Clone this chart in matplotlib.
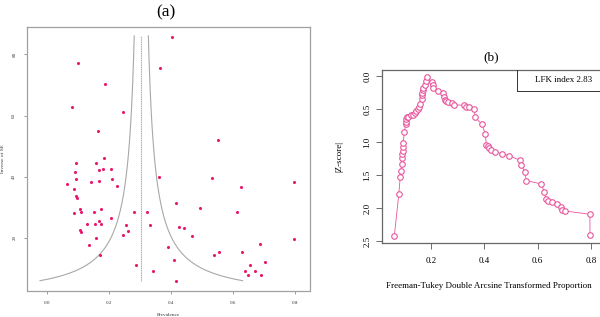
import matplotlib
matplotlib.use("Agg")
import matplotlib.pyplot as plt
import numpy as np
from matplotlib.patches import Rectangle

# ---------------- Panel (a): funnel plot data ----------------
prev = [0.102, 0.405, 0.187, 0.082, 0.365, 0.246, 0.165, 0.552, 0.184,
        0.096, 0.160, 0.091, 0.168, 0.180, 0.208, 0.096, 0.065, 0.144,
        0.169, 0.210, 0.228, 0.088, 0.095, 0.097, 0.108, 0.112, 0.087,
        0.174, 0.152, 0.208, 0.283, 0.325, 0.168, 0.130, 0.155, 0.175,
        0.256, 0.332, 0.107, 0.112, 0.263, 0.245, 0.159, 0.137, 0.171,
        0.288, 0.343, 0.363, 0.534, 0.797, 0.626, 0.418, 0.494, 0.614,
        0.427, 0.443, 0.468, 0.392, 0.797, 0.689, 0.541, 0.557, 0.631,
        0.410, 0.705, 0.655, 0.641, 0.671, 0.650, 0.691, 0.416]
inv_se = [77.2, 85.7, 70.4, 62.9, 75.6, 61.1, 55.1, 52.0, 46.0,
          44.5, 44.4, 41.5, 42.3, 42.6, 42.6, 39.3, 37.7, 38.3,
          38.7, 39.1, 37.1, 36.1, 33.6, 33.1, 29.4, 28.5, 28.2,
          29.6, 28.3, 26.5, 28.3, 28.4, 25.5, 24.5, 24.5, 24.5,
          24.3, 24.1, 22.7, 21.9, 22.4, 21.0, 19.9, 17.7, 14.4,
          11.1, 9.3, 39.9, 39.7, 38.2, 36.7, 31.3, 29.7, 28.4,
          23.5, 23.2, 20.6, 17.1, 19.7, 18.1, 14.4, 15.3, 15.3,
          12.8, 12.2, 11.2, 9.2, 9.3, 7.8, 8.0, 6.0]
pooled = 0.305
funnel_y_min, funnel_y_max = 6.0, 86.0
z_crit = 1.96
a_xticks = [0.0, 0.2, 0.4, 0.6, 0.8]
a_yticks = [20, 40, 60, 80]

# ---------------- Panel (b): Doi plot data ----------------
ft_prop = [0.063, 0.080, 0.085, 0.088, 0.090, 0.093, 0.091, 0.094, 0.095,
           0.096, 0.101, 0.106, 0.107, 0.108, 0.110, 0.113, 0.126, 0.132,
           0.140, 0.146, 0.150, 0.155, 0.160, 0.165, 0.166, 0.168, 0.171,
           0.172, 0.177, 0.182, 0.185, 0.206, 0.208, 0.207, 0.227, 0.245,
           0.248, 0.252, 0.258, 0.263, 0.281, 0.287, 0.323, 0.332, 0.344,
           0.362, 0.366, 0.392, 0.404, 0.408, 0.415, 0.419, 0.427, 0.442,
           0.467, 0.492, 0.533, 0.539, 0.551, 0.558, 0.613, 0.625, 0.631,
           0.640, 0.652, 0.671, 0.688, 0.691, 0.704, 0.796, 0.796]
z_abs = [2.42, 1.78, 1.53, 1.43, 1.33, 1.24, 1.18, 1.13, 1.07,
         1.01, 0.84, 0.72, 0.69, 0.65, 0.62, 0.61, 0.59, 0.58,
         0.55, 0.52, 0.49, 0.47, 0.42, 0.35, 0.29, 0.25, 0.21,
         0.17, 0.13, 0.07, 0.015, 0.086, 0.137, 0.18, 0.22, 0.25,
         0.31, 0.36, 0.38, 0.39, 0.41, 0.43, 0.44, 0.46, 0.47,
         0.50, 0.62, 0.73, 0.88, 1.04, 1.06, 1.08, 1.12, 1.15,
         1.17, 1.20, 1.27, 1.34, 1.45, 1.58, 1.63, 1.75, 1.86,
         1.89, 1.91, 1.93, 1.98, 2.02, 2.04, 2.09, 2.41]
lfk_label = "LFK index 2.83"
b_xticks = [0.2, 0.4, 0.6, 0.8]
b_yticks = [0.0, 0.5, 1.0, 1.5, 2.0, 2.5]

serif = ["Liberation Serif", "DejaVu Serif"]
plt.rcParams["font.family"] = serif

fig = plt.figure(figsize=(6.0, 3.17), dpi=100)
W, H = 600.0, 317.0

# ---------- Panel (a) ----------
axA = fig.add_axes([26.7 / W, 1 - 290.5 / H, (310 - 26.7) / W, (290.5 - 26.5) / H])
gray = "#a8a8a8"
ys = np.linspace(funnel_y_min, funnel_y_max, 300)
axA.plot(pooled - z_crit / ys, ys, color=gray, lw=0.8)
axA.plot(pooled + z_crit / ys, ys, color=gray, lw=0.8)
axA.plot([pooled, pooled], [funnel_y_min, funnel_y_max], color=gray, lw=0.8,
         ls=(0, (1, 0.6)))
axA.scatter(prev, inv_se, s=5, color="#e8186e", zorder=3, linewidths=0)
axA.set_xlim(-0.0645, 0.849)
axA.set_ylim(2.8, 89.1)
axA.set_xticks(a_xticks)
axA.set_xticklabels([f"{v:.1f}" for v in a_xticks])
axA.set_yticks(a_yticks)
axA.set_yticklabels([str(v) for v in a_yticks], rotation=90, va="center")
axA.tick_params(labelsize=3.6, length=2.5, width=0.5, color="#777777",
                labelcolor="#333333", pad=5)
for s in axA.spines.values():
    s.set_color("#a0a0a0")
    s.set_linewidth(0.9)
axA.set_xlabel("Prevalence", fontsize=3.8, color="#333333")
axA.xaxis.set_label_coords(0.5, -0.085)
axA.set_ylabel("Inverse of SE", fontsize=3.8, color="#333333")
axA.yaxis.set_label_coords(-0.077, 0.5)
fig.text(166 / W, 1 - 12 / H, "(a)", fontsize=12.5, ha="center", va="center")

# ---------- Panel (b) ----------
right_px = 600.5
axB = fig.add_axes([382.3 / W, 1 - 242.7 / H, (right_px - 382.3) / W, (242.7 - 70) / H])
pink = "#e8559c"
axB.plot(ft_prop, z_abs, color=pink, lw=0.6, zorder=2)
axB.plot(ft_prop, z_abs, ls="none", marker="o", ms=4.0, mfc="white",
         mec=pink, mew=0.8, zorder=3)
axB.set_xlim(0.018, (right_px - 372.4) / 273.0)
axB.set_ylim(2.52, -0.095)
axB.set_xticks(b_xticks)
axB.set_xticklabels([f"{v:.1f}" for v in b_xticks])
axB.set_yticks(b_yticks)
axB.set_yticklabels([f"{v:.1f}" for v in b_yticks], rotation=90, va="center")
axB.tick_params(axis="x", labelsize=6.5, length=4, width=0.6, color="#555555", pad=6)
axB.tick_params(axis="y", labelsize=6.5, length=4, width=0.6, color="#555555", pad=4)
for s in axB.spines.values():
    s.set_color("#666666")
    s.set_linewidth(0.9)
axB.set_xlabel("Freeman-Tukey Double Arcsine Transformed Proportion", fontsize=6.5)
axB.xaxis.set_label_coords(0.49, -0.226)
axB.set_ylabel("|Z-score|", fontsize=6.5)
axB.yaxis.set_label_coords(-0.18, 0.5)
axB.add_patch(Rectangle((0.616, 0.878), 0.5, 0.3, transform=axB.transAxes,
                        fill=False, edgecolor="#333333", lw=0.7, clip_on=True,
                        zorder=4))
axB.text(0.833, 0.94, lfk_label, transform=axB.transAxes, fontsize=6.5,
         ha="center", va="center")
fig.text(490.7 / W, 1 - 57 / H, "(b)", fontsize=9.5, ha="center", va="center")

fig.savefig("out.png", dpi=100)
